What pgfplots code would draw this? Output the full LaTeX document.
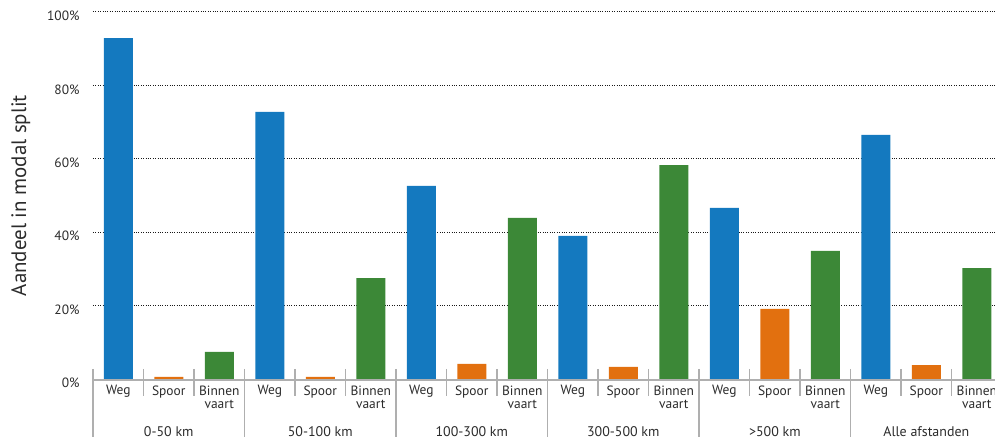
\documentclass[border=0pt]{standalone}
\usepackage{pgfplots}
\pgfplotsset{compat=1.18}
\usepackage{fontspec}
\setmainfont{PT Sans}
\definecolor{cweg}{HTML}{1479BF}
\definecolor{cspoor}{HTML}{E2700F}
\definecolor{cbin}{HTML}{3C8837}
\definecolor{sep}{HTML}{AFAFAF}
\definecolor{txt}{HTML}{2B2B2B}
\begin{document}
\begin{tikzpicture}
\path[use as bounding box] (-93bp,-60bp) rectangle (902bp,379bp);
\begin{axis}[
  scale only axis, width=902bp, height=367bp,
  xmin=-0.5, xmax=17.36, ymin=0, ymax=100,
  clip=false,
  axis line style={draw=none},
  major tick length=0pt,
  ytick={0,20,40,60,80,100},
  yticklabel={\pgfmathprintnumber{\tick}\%},
  /pgf/number format/assume math mode=true,
  yticklabel style={font=\fontsize{13.5}{15}\selectfont, text=txt, xshift=-10bp, yshift=-4bp},
  ymajorgrids, grid style={dotted, black!90, line width=1bp},
  xtick={0,...,17},
  xticklabels={Weg,Spoor,{Binnen\\vaart},Weg,Spoor,{Binnen\\vaart},Weg,Spoor,{Binnen\\vaart},Weg,Spoor,{Binnen\\vaart},Weg,Spoor,{Binnen\\vaart},Weg,Spoor,{Binnen\\vaart}},
  xticklabel style={font=\fontsize{13.5}{13.5}\selectfont, text=txt, align=center, yshift=-3bp},
  ylabel={Aandeel in modal split},
  every axis y label/.style={at={(axis description cs:-0.08,0.5)}, rotate=90, anchor=center, font=\fontsize{21}{23}\selectfont, text=txt},
  ybar, bar width=29bp, bar shift=0pt,
]
\addplot[fill=cweg, draw=none] coordinates {(0,92.9) (3,72.8) (6,52.6) (9,39.0) (12,46.6) (15,66.5)};
\addplot[fill=cspoor, draw=none] coordinates {(1,0.6) (4,0.6) (7,4.1) (10,3.3) (13,19.1) (16,3.8)};
\addplot[fill=cbin, draw=none] coordinates {(2,7.4) (5,27.5) (8,43.9) (11,58.3) (14,34.9) (17,30.2)};
\draw[sep, line width=1.8bp] ([yshift=-0.9bp]axis cs:-0.5,0) -- ([yshift=-0.9bp]axis cs:17.36,0);
\pgfplotsinvokeforeach{0.5,1.5,3.5,4.5,6.5,7.5,9.5,10.5,12.5,13.5,15.5,16.5}{
  \draw[sep, line width=1.4bp] ([yshift=10bp]axis cs:#1,0) -- ([yshift=-17bp]axis cs:#1,0);
}
\pgfplotsinvokeforeach{-0.5,2.5,5.5,8.5,11.5,14.5}{
  \draw[sep, line width=1.4bp] ([yshift=10bp]axis cs:#1,0) -- ([yshift=-58bp]axis cs:#1,0);
}
\node[font=\fontsize{14}{15}\selectfont, text=txt] at ([yshift=-53bp]axis cs:1,0) {0-50 km};
\node[font=\fontsize{14}{15}\selectfont, text=txt] at ([yshift=-53bp]axis cs:4,0) {50-100 km};
\node[font=\fontsize{14}{15}\selectfont, text=txt] at ([yshift=-53bp]axis cs:7,0) {100-300 km};
\node[font=\fontsize{14}{15}\selectfont, text=txt] at ([yshift=-53bp]axis cs:10,0) {300-500 km};
\node[font=\fontsize{14}{15}\selectfont, text=txt] at ([yshift=-53bp]axis cs:13,0) {>500 km};
\node[font=\fontsize{14}{15}\selectfont, text=txt] at ([yshift=-53bp]axis cs:16,0) {Alle afstanden};
\end{axis}
\end{tikzpicture}
\end{document}
